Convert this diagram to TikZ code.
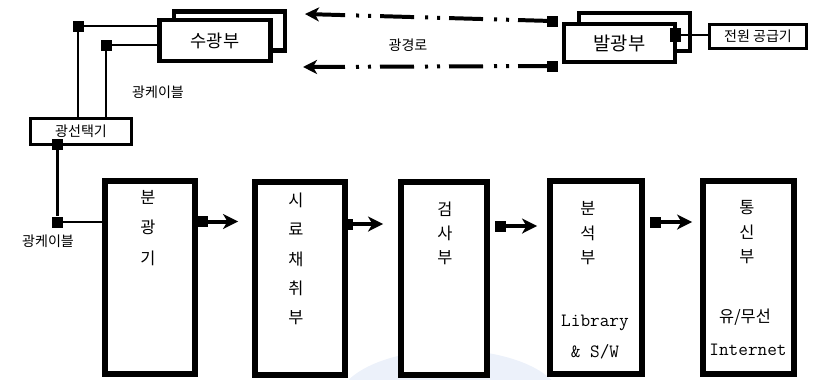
\documentclass[tikz,border=0pt]{standalone}
\usepackage{fontspec}
\newfontfamily\kr{Noto Sans CJK KR}
\usetikzlibrary{arrows.meta,calc}
\definecolor{wm}{RGB}{236,241,250}
\begin{document}
\begin{tikzpicture}[x=0.03cm,y=-0.03cm,
  colbox/.style={draw,line width=5pt,minimum height=5.79cm,inner sep=0pt,fill=white},
  topbox/.style={draw,line width=3.8pt,minimum width=3.33cm,minimum height=1.17cm,inner sep=0pt,fill=white},
  thinbox/.style={draw,line width=2.5pt,inner sep=0pt,fill=white},
  sq/.style={fill=black,minimum size=0.33cm,inner sep=0pt},
  kchar/.style={font=\kr\fontsize{14}{16}\selectfont,inner sep=0pt},
  klabel/.style={font=\kr\fontsize{12}{14}\selectfont,inner sep=0pt},
  mlabel/.style={font=\ttfamily\fontsize{16}{18}\selectfont,inner sep=0pt},
  conn/.style={line width=2.5pt},
  arw/.style={line width=3.4pt,-{Stealth[length=0.45cm,width=0.45cm,inset=0.13cm]}},
  dd/.style={line width=3.4pt,dash pattern=on 1.02cm off 0.27cm on 0.09cm off 0.27cm on 0.09cm off 0.33cm,
    -{Stealth[length=0.42cm,width=0.42cm,inset=0.12cm]}}]
\useasboundingbox (0,0) rectangle (820,379);
% faint watermark
\begin{scope}
  \clip (0,0) rectangle (820,379);
  \fill[wm] (450,402) ellipse [x radius=112, y radius=52];
\end{scope}

% receiver (back + front)
\node[topbox] (rxback) at (229.5,31) {};
\node[topbox,minimum height=1.23cm] (rx) at (215,40.5) {\kr\fontsize{15}{17}\selectfont 수광부};
% emitter (back + front)
\node[topbox,minimum height=1.14cm] (txback) at (634.5,32) {};
\node[topbox,minimum height=1.14cm] (tx) at (619.5,43) {\kr\fontsize{16}{18}\selectfont 발광부};
% power supply
\node[thinbox,minimum width=2.91cm,minimum height=0.72cm] (pwr) at (758,36.5) {\kr\fontsize{12}{14}\selectfont 전원 공급기};
\node[fill=black,minimum width=0.33cm,minimum height=0.42cm,inner sep=0pt] (txout) at (675,35) {};
\draw[conn] (txout) -- (txout -| pwr.west);

% optical selector
\node[thinbox,minimum width=3.03cm,minimum height=0.78cm] (sel) at (81,131.5) {\kr\fontsize{12}{14}\selectfont 광선택기};

% squares for receiver cables
\node[sq] (s1) at (78,26) {};
\node[sq] (s2) at (106,45) {};
\draw[conn] (s1) -- (s1 -| rx.west);
\draw[conn] (s2) -- (s2 -| rx.west);
\draw[conn] (s1) -- (s1 |- sel.north);
\draw[conn] (s2) -- (s2 |- sel.north);
\node[klabel] (cab1) at (158,92) {광케이블};

% dash-dot optical path
\node[sq] (d1) at (552,21) {};
\node[sq] (d2) at (552,66) {};
\coordinate (e1) at (305,14);
\coordinate (e2) at (303,67);
\draw[dd] (d1.center) -- (e1);
\draw[dd] (d2.center) -- (e2);
\node[klabel] (path) at (408,45) {광경로};

% column boxes
\node[colbox,minimum width=2.70cm] (b1) at (150,277.5) {};
\node[colbox,minimum width=2.70cm] (b2) at (300,278.5) {};
\node[colbox,minimum width=2.58cm] (b3) at (444,278.5) {};
\node[colbox,minimum width=2.76cm] (b4) at (596,277.5) {};
\node[colbox,minimum width=2.73cm] (b5) at (748.5,277.5) {};

\foreach \c [count=\i] in {분,광,기}
  \node[kchar] (b1c\i) at (148,{197+30.5*(\i-1)}) {\c};
\foreach \c [count=\i] in {시,료,채,취,부}
  \node[kchar] (b2c\i) at (296,{200+29.5*(\i-1)}) {\c};
\foreach \c [count=\i] in {검,사,부}
  \node[kchar] (b3c\i) at (445,{209+24.5*(\i-1)}) {\c};
\foreach \c [count=\i] in {분,석,부}
  \node[kchar] (b4c\i) at (588,{208+25*(\i-1)}) {\c};
\foreach \c [count=\i] in {통,신,부}
  \node[kchar] (b5c\i) at (747,{208+24.5*(\i-1)}) {\c};

\node[mlabel] (lib) at (595,323) {Library};
\node[mlabel] (sw) at (595,352) {\&~S/W};
\node[kchar] (wire) at (745,317) {유/무선};
\node[mlabel] (inet) at (748,350) {Internet};

% selector to spectrometer
\node[sq] (s3) at (57.5,144) {};
\node[sq] (s4) at (57.5,222) {};
\draw[conn] (s3) -- (s4);
\draw[conn] (s4) -- (s4 -| b1.west);
\node[klabel] (cab2) at (48,241) {광케이블};

% flow arrows
\node[sq] (o1) at (202,221.5) {};
\node[sq] (o2) at (347,224) {};
\node[sq] (o3) at (500,226) {};
\node[sq] (o4) at (655,222) {};
\draw[arw,shorten >=0.42cm] (o1.center) -- (o1 -| b2.west);
\draw[arw,shorten >=0.45cm] (o2.center) -- (o2 -| b3.west);
\draw[arw,shorten >=0.3cm] (o3.center) -- (o3 -| b4.west);
\draw[arw,shorten >=0.24cm] (o4.center) -- (o4 -| b5.west);
\end{tikzpicture}
\end{document}
